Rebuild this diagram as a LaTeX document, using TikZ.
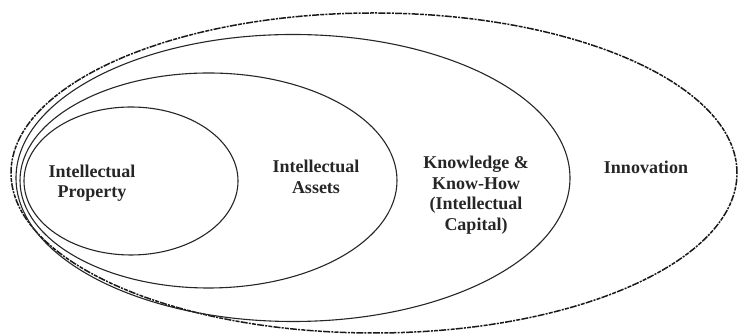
\documentclass[tikz,border=0pt]{standalone}
\usepackage{fontspec}
\setmainfont{Liberation Serif}
\usetikzlibrary{shapes.geometric}
\begin{document}
\begin{tikzpicture}[x=1pt,y=1pt,
  ring/.style={ellipse, draw=black!85, line width=1.1pt, inner sep=0pt},
  outerring/.style={ellipse, draw=black!90, line width=1.5pt, inner sep=0pt,
    dash pattern=on 7pt off 1.2pt on 2pt off 1.2pt on 4pt off 1.2pt},
  label/.style={align=center, font=\fontsize{18}{20.5}\selectfont\bfseries, text=black!85}]
  \useasboundingbox (0,0) rectangle (740,336);
  % nested ellipses, all touching near the left edge
  \node[outerring, minimum width=726pt, minimum height=320pt] (innov) at (374,163) {};
  \node[ring, minimum width=554pt, minimum height=287pt] (know) at (293,158) {};
  \node[ring, minimum width=377pt, minimum height=215pt] (assets) at (208.5,155.5) {};
  \node[ring, minimum width=214pt, minimum height=148pt] (prop) at (131,155) {};
  % captions
  \node[label] (tprop) at (92,153) {Intellectual\\Property};
  \node[label] (tassets) at (316,159) {Intellectual\\Assets};
  \node[label] (tknow) at (476,141) {Knowledge \&\\Know-How\\(Intellectual\\Capital)};
  \node[label] (tinnov) at (646,169) {Innovation};
\end{tikzpicture}
\end{document}
